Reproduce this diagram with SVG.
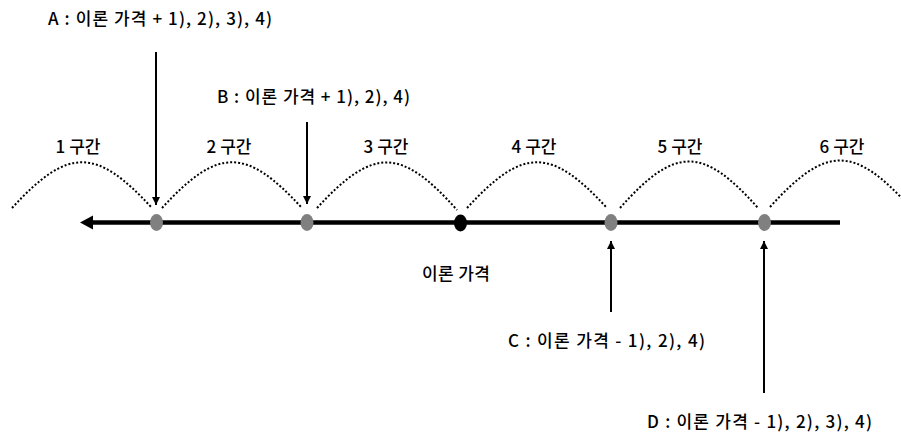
<svg xmlns="http://www.w3.org/2000/svg" width="901" height="434" viewBox="0 0 901 434">
<style>
text{font-family:"Noto Sans CJK KR","Noto Sans",sans-serif;font-size:17px;font-weight:500;fill:#000;text-anchor:middle}
.arch{fill:none;stroke:#000;stroke-width:2;stroke-dasharray:2 2}
.ptr{stroke:#000;stroke-width:2;fill:none;marker-end:url(#ah)}
.gray{fill:#808080}
</style>
<defs>
<marker id="ah" markerUnits="userSpaceOnUse" markerWidth="10" markerHeight="10" refX="8" refY="4" orient="auto">
<path d="M0,0 L8,4 L0,8 Z" fill="#000"/>
</marker>
</defs>
<g id="connectors">
<path class="arch" d="M12,208 C68,147 96,147 152,208"/>
<path class="arch" d="M162,208 C218,147 246,147 302,208"/>
<path class="arch" d="M317,208 C373,147 401,147 457,210"/>
<path class="arch" d="M467,208 C523,147 551,147 607,208"/>
<path class="arch" d="M620,208 C675,146 703,146 758,208"/>
<path class="arch" d="M770,207 C826,145 854,145 910,207"/>
<line x1="90" y1="222.5" x2="840" y2="222.5" stroke="#000" stroke-width="4.5"/>
<path d="M80,222.5 L93,215.5 L93,229.5 Z" fill="#000"/>
<line class="ptr" x1="156" y1="52" x2="156" y2="205"/>
<line class="ptr" x1="307" y1="122" x2="307" y2="204"/>
<line class="ptr" x1="611" y1="312" x2="611" y2="241"/>
<line class="ptr" x1="764" y1="393" x2="764" y2="241"/>
</g>
<g id="pointA"><ellipse class="gray" cx="156.5" cy="222.5" rx="6.5" ry="8.5"/></g>
<g id="pointB"><ellipse class="gray" cx="307" cy="222.5" rx="6.5" ry="8.5"/></g>
<g id="theory"><ellipse cx="460.5" cy="223" rx="6.5" ry="8.5" fill="#000"/><text x="456" y="280" textLength="68">이론 가격</text></g>
<g id="pointC"><ellipse class="gray" cx="611" cy="222.5" rx="6.5" ry="8.5"/></g>
<g id="pointD"><ellipse class="gray" cx="764.5" cy="222.5" rx="6.5" ry="8.5"/></g>
<g id="sections">
<text x="78" y="153" textLength="45">1 구간</text>
<text x="229" y="153" textLength="45">2 구간</text>
<text x="386" y="153" textLength="45">3 구간</text>
<text x="534" y="153" textLength="45">4 구간</text>
<text x="680" y="153" textLength="45">5 구간</text>
<text x="842" y="153" textLength="45">6 구간</text>
</g>
<g id="labelA"><text x="160" y="25" textLength="224">A : 이론 가격 + 1), 2), 3), 4)</text></g>
<g id="labelB"><text x="313.5" y="103" textLength="193">B : 이론 가격 + 1), 2), 4)</text></g>
<g id="labelC"><text x="606.5" y="347" textLength="197">C : 이론 가격 - 1), 2), 4)</text></g>
<g id="labelD"><text x="759.5" y="428" textLength="225">D : 이론 가격 - 1), 2), 3), 4)</text></g>
</svg>
